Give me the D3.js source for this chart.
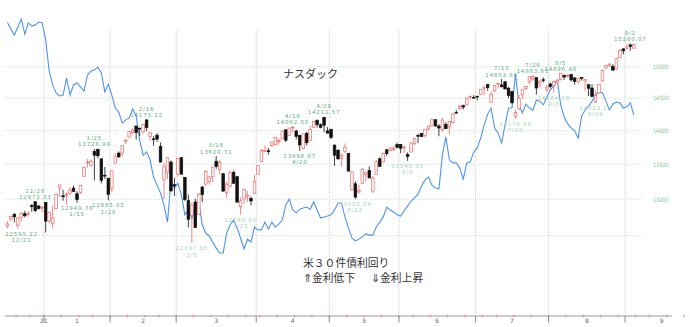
<!DOCTYPE html>
<html>
<head>
<meta charset="utf-8">
<script src="https://d3js.org/d3.v7.min.js"></script>
<style>
body { margin: 0; background: #fff; }
</style>
</head>
<body>
<script>
var w = 690, h = 327;

// trading days of the chart (holidays removed)
var firstDay = '2020-12-16', lastDay = '2021-09-03', axisEnd = '2021-09-30';
var holidays = ['2020-12-25', '2021-01-01', '2021-01-18', '2021-02-15', '2021-04-02',
                '2021-05-31', '2021-07-05', '2021-09-06'];

// NASDAQ daily prices, Dec 16 2020 .. Sep 3 2021
var open = [
  12632,12728,12790,12640,12750,12800,12791,12915,12965,12906,12877,
  12958,12698,12667,12867,13160,13050,13065,13087,13157,13077,13097,13327,13530,13490,13689,13721,13580,13342,13300,
  13147,13516,13664,13665,13840,13902,13967,14070,14036,13982,14162,13911,13875,13930,13762,13286,13386,13533,13206,
  13353,13597,13312,12981,12779,12962,12791,13173,13216,13255,13326,13545,13425,13364,13094,13187,13381,13321,12896,13003,13041,13013,13085,
  13357,13540,13687,13700,13776,13790,13846,13876,14012,13929,14052,13994,13925,13732,13960,13853,14052,14158,14089,14200,13997,
  14017,13783,13710,13591,13694,13661,13140,13219,13104,13226,13353,13412,13117,13351,13580,13535,13713,13700,13721,13792,
  13791,13744,13645,13681,13806,13928,13957,13929,14026,14082,14165,14069,14014,14094,14057,14122,14279,14335,14383,14394,14523,14512,
  14530,14555,14663,14713,14436,14614,14723,14708,14757,14656,14603,14214,14343,14551,14651,14758,14806,14823,14723,14791,14638,
  14723,14701,14743,14797,14859,14847,14872,14820,14760,14826,14771,14712,14658,14441,14583,14771,14982,15024,15006,14970,15153,15290,
  15301,15357,15303
];
var high = [
  12695,12764,12809,12760,12818,12840,12833,12930,12973.33,12924,12902,
  12958,12828,12909,13090,13208,13135,13097,13170,13196,13112,13205,13469,13577,13569,13728.98,13721,13583,13461,13301,
  13408,13658,13689,13777,13878,13987,14041,14071,14045,14097,14175.12,13985,13917,13964,13824,13521,13606,13557,13305,
  13590,13604,13312,13069,12957,13009,13084,13189,13416,13327,13461,13620.71,13566,13375,13250,13410,13412,13333,13026,13148,13121,13040,13349,
  13484,13728,13775,13740,13831,13901,13890,13998,14018,14041,14062.50,14015,13937,13951,13979,14077,14141,14165,14112,14211.57,14055,
  14030,13791,13711,13655,13806,13664,13400,13255,13204,13446,13386,13472,13332,13561,13602,13675,13721,13758,13778,13820,
  13792,13767,13675,13831,13883,13956,13962,14026,14070,14175,14174,14099,14189,14130,14142,14269,14317,14395,14396,14505,14542,14548,
  14533,14640,14699,14716,14602,14701,14735,14803.68,14772,14677,14604,14325,14550,14634,14694,14837,14863.65,14826,14791,14828,14705,
  14746,14762,14794,14896.46,14874,14879,14884,14827,14818,14830,14794,14712,14720,14620,14724,14957,15025,15056,15042,15140,15288,15303,
  15374,15380.07,15375
];
var low = [
  12603,12690,12680,12595.22,12690,12750,12760,12827,12821,12857,12821,
  12543,12665,12597,12863,13036,12980,12919,13056,13112,12949.78,13075,13320,13452,13460,13267,13587,13225,13290,12985.05,
  13099,13516,13592,13612,13799,13898,13950,13867,13919,13955,13992,13849,13774,13830,13530,13003,13286,13107,13048,
  13324,13351,12978,12611,12397.05,12606,12780,12961,13193,13208,13246,13434,13348,13105,13024,13166,13219,12955,12786.81,12935,12965,12915,13075,
  13355,13537,13685,13642,13753,13778,13787,13875,13828,13919,13976,13866,13698.67,13717,13778,13840,14052,14048,14035,13973,13960,
  13872,13478,13563,13473,13664,13396,13120,13002.54,13076,13221,13255,13299,13083,13349,13462,13530,13625,13691,13693,13746,
  13664,13668,13548.93,13677,13780,13813,13907,13896,13998,14056,14056,13916,13978,14022,13943,14104,14262,14320,14323,14381,14487,14491,
  14463,14547,14541,14617,14420,14595,14653,14675,14640,14500,14415,14178.66,14307,14488,14620,14716,14772,14556,14650,14746,14595,
  14653,14584.19,14742,14777,14787,14824,14759,14712,14718,14778,14615,14533,14521,14423.15,14570,14766,14960,14995,14939,14950,15141,15202,
  15297,15259,15301
];
var close = [
  12658,12764,12756,12742,12807,12771,12805,12900,12843,12870,12888,
  12698,12819,12741,13067,13202,13036,13072,13128,13112,12998,13197,13457,13530,13543,13635,13626,13270,13337,13070,
  13403,13612,13610,13777,13856,13987,14007,13973,14025,14095,14047,13965,13865,13874,13533,13465,13597,13119,13192,
  13588,13358,12998,12723,12920,12609,13073,13068,13398,13320,13460,13471,13525,13116,13215,13378,13227,12961,12977,13139,13059,12977,13247,
  13480,13705,13698,13688,13829,13900,13850,13996,13857,14039,14053,13914,13786,13950,13818,14016,14138,14090,14051,14082,13962,
  13895,13634,13582,13633,13752,13402,13389,13032,13124,13430,13379,13303,13299,13535,13471,13661,13657,13738,13736,13748,
  13736,13756,13614,13814,13881,13925,13911,14020,14069,14174,14072,14040,14161,14030,14141,14253,14272,14369,14360,14500,14528,14504,
  14522,14639,14664,14665,14559,14701,14733,14677,14644,14543,14427,14275,14498,14632,14685,14837,14840,14660,14763,14778,14673,
  14681,14761,14780,14895,14835,14860,14788,14765,14816,14822,14794,14656,14525,14542,14714,14943,15019,15042,14945,15129,15265,15259,
  15310,15331,15363
];

// US 30y treasury yield (%), one value per trading day, drawn on an inverted axis
var yieldValues = [
  1.652,1.674,1.695,1.667,1.640,1.692,1.653,1.664,1.660,1.650,1.653,
  1.712,1.820,1.868,1.896,1.906,1.903,1.844,1.903,1.868,1.861,1.875,1.889,1.834,1.820,1.816,1.806,1.827,1.892,1.865,
  1.903,1.948,1.962,2.000,1.989,1.982,1.951,1.976,2.059,2.111,2.100,2.128,2.187,2.215,2.242,2.284,2.343,2.204,2.225,
  2.208,2.249,2.318,2.301,2.329,2.284,2.270,2.353,2.381,2.391,2.412,2.433,2.450,2.450,2.381,2.353,2.336,2.363,2.398,2.436,2.402,2.412,2.360,
  2.370,2.370,2.343,2.367,2.343,2.360,2.350,2.336,2.284,2.263,2.301,2.311,2.298,2.294,2.291,2.298,2.273,2.301,2.329,2.325,2.322,
  2.318,2.301,2.277,2.277,2.325,2.363,2.398,2.408,2.402,2.394,2.384,2.388,2.388,2.360,2.343,2.325,2.291,2.301,2.308,2.318,
  2.322,2.304,2.287,2.270,2.259,2.246,2.218,2.197,2.187,2.215,2.225,2.228,2.111,2.048,2.128,2.138,2.138,2.156,2.194,2.138,2.135,2.100,
  2.086,2.052,2.007,1.969,1.948,2.017,2.034,2.069,2.007,1.948,1.948,1.830,1.937,1.965,1.934,1.948,1.955,1.920,1.924,1.937,1.910,
  1.885,1.872,1.851,1.937,1.979,2.003,2.017,2.027,2.052,1.976,1.955,1.941,1.924,1.903,1.892,1.896,1.924,1.955,1.934,1.927,1.930,1.948,
  1.944,1.930,1.972
];

// highs / lows marked on the chart
var markDay = ['2020-12-21','2020-12-29','2021-01-15','2021-01-25','2021-01-29','2021-02-16','2021-03-05',
               '2021-03-16','2021-03-25','2021-04-16','2021-04-20','2021-04-29','2021-05-12','2021-06-03',
               '2021-07-13','2021-07-19','2021-07-26','2021-08-03','2021-08-05','2021-08-19','2021-09-02'];
var markText = ['12/21','12/28','1/15','1/25','1/29','2/16','3/5','3/16','3/25','4/16','4/20','4/29','5/12','6/3',
                '7/13','7/19','7/26','8/3','8/5','8/19','9/2'];
var markKind = ['low','high','low','high','low','high','low','high','low','high','low','high','low','low',
                'high','low','high','low','high','low','high'];

var priceTicks = [13000, 13500, 14000, 14500, 15000];
var priceGrid = [12500, 13000, 13500, 14000, 14500, 15000];

var fmtDay = d3.timeFormat('%Y-%m-%d');
var parseDay = d3.timeParse('%Y-%m-%d');

function tradingDays(from, to) {
    var out = [];
    d3.timeDay.range(parseDay(from), d3.timeDay.offset(parseDay(to), 1)).forEach(function(d) {
        var wd = d.getDay();
        if (wd == 0 || wd == 6) return;
        if (holidays.indexOf(fmtDay(d)) >= 0) return;
        out.push(d);
    });
    return out;
}

var axisDays = tradingDays(firstDay, axisEnd);
var days = tradingDays(firstDay, lastDay);

var x = d3.scaleLinear().domain([0, 180]).range([7.4, 633.8]);
var y = d3.scaleLog().domain([13000, 15000]).range([199.3, 66.7]);
var yy = d3.scaleLinear().domain([1.65, 2.45]).range([22, 253]);

var svg = d3.select('body').append('svg')
    .attr('width', w).attr('height', h)
    .style('font-family', '"DejaVu Sans", sans-serif');

// horizontal grid
svg.append('g').selectAll('line').data(priceGrid).join('line')
    .attr('x1', 5).attr('x2', 645)
    .attr('y1', function(d) { return y(d); }).attr('y2', function(d) { return y(d); })
    .attr('stroke', '#cfe6dc').attr('stroke-width', 1).attr('stroke-dasharray', '1,1');

svg.append('g').selectAll('text').data(priceTicks).join('text')
    .attr('x', 653).attr('y', function(d) { return y(d) + 2.2; })
    .attr('font-size', 6).attr('fill', '#7cbf93')
    .attr('textLength', 15.5).attr('lengthAdjust', 'spacingAndGlyphs')
    .text(function(d) { return d; });

// month boundaries / week boundaries
var monthStarts = [], weekStarts = [];
axisDays.forEach(function(d, i) {
    if (i == 0) return;
    var p = axisDays[i - 1];
    if (d.getMonth() != p.getMonth()) monthStarts.push(i);
    if (d.getDay() <= p.getDay() || (d - p) > 4 * 864e5) weekStarts.push(i);
});

svg.append('g').selectAll('line').data(monthStarts.filter(function(i) { return i < 181; })).join('line')
    .attr('x1', function(i) { return x(i - 0.5); }).attr('x2', function(i) { return x(i - 0.5); })
    .attr('y1', 30).attr('y2', 316)
    .attr('stroke', '#d0d0d0').attr('stroke-dasharray', '1,1');

// yield line
var line = d3.line()
    .x(function(d, i) { return x(i); })
    .y(function(d) { return yy(d); });
svg.append('path')
    .attr('d', line(yieldValues))
    .attr('fill', 'none').attr('stroke', '#4f93ee').attr('stroke-width', 1.1);

// candles
var candles = days.map(function(d, i) {
    return { i: i, o: open[i], h: high[i], l: low[i], c: close[i] };
});
var bw = 2.6;
var cg = svg.append('g');
candles.forEach(function(d) {
    var up = d.c >= d.o;
    var col = up ? '#f26666' : '#111';
    cg.append('line')
        .attr('x1', x(d.i)).attr('x2', x(d.i))
        .attr('y1', y(d.h)).attr('y2', y(d.l))
        .attr('stroke', col).attr('stroke-width', 0.8);
    var top = y(Math.max(d.o, d.c)), bot = y(Math.min(d.o, d.c));
    cg.append('rect')
        .attr('x', x(d.i) - bw / 2).attr('y', top)
        .attr('width', bw).attr('height', Math.max(bot - top, 0.8))
        .attr('fill', up ? '#fff' : col)
        .attr('stroke', col).attr('stroke-width', 0.7);
});

// high / low marks
var paleMarks = ['3/5', '3/25', '5/12', '6/3', '7/19', '8/3', '8/19'];
var dayKeys = days.map(fmtDay);
var mg = svg.append('g').attr('font-size', 5.6).attr('letter-spacing', 0.75)
    .attr('text-anchor', 'middle');
markDay.forEach(function(md, k) {
    var i = dayKeys.indexOf(md);
    var isHigh = markKind[k] == 'high';
    var v = isHigh ? high[i] : low[i];
    var cx = Math.max(x(i), 21.5);
    var col = paleMarks.indexOf(markText[k]) >= 0 ? '#a6d6b6' : '#5fae7f';
    var t1, t2;
    if (isHigh) {
        t1 = { s: markText[k], y: y(v) - 10.6 + 2 };
        t2 = { s: v.toFixed(2), y: y(v) - 4.3 + 2 };
    } else {
        t1 = { s: v.toFixed(2), y: y(v) + 5 + 2 };
        t2 = { s: markText[k], y: y(v) + 11.3 + 2 };
    }
    [t1, t2].forEach(function(t) {
        mg.append('text').attr('x', cx).attr('y', t.y).attr('fill', col).text(t.s);
    });
});

// bottom axis
svg.append('line').attr('x1', 5).attr('x2', 672).attr('y1', 316).attr('y2', 316)
    .attr('stroke', '#999').attr('stroke-width', 1);
svg.append('g').selectAll('line').data(weekStarts).join('line')
    .attr('x1', function(i) { return x(i - 0.5); }).attr('x2', function(i) { return x(i - 0.5); })
    .attr('y1', 315).attr('y2', 317.5)
    .attr('stroke', '#f08080').attr('stroke-width', 1);
svg.append('g').selectAll('line').data(monthStarts).join('line')
    .attr('x1', function(i) { return x(i - 0.5); }).attr('x2', function(i) { return x(i - 0.5); })
    .attr('y1', 316).attr('y2', 322.5)
    .attr('stroke', '#888').attr('stroke-width', 1);

var months = d3.groups(axisDays.map(function(d, i) { return { d: d, i: i }; }),
                       function(e) { return e.d.getMonth(); })
    .filter(function(g) { return g[1][0].d.getDate() < 5; });
svg.append('g').selectAll('text').data(months).join('text')
    .attr('x', function(g) { return x((g[1][0].i + g[1][g[1].length - 1].i) / 2); })
    .attr('y', 322.5).attr('font-size', 6).attr('fill', '#666').attr('text-anchor', 'middle')
    .text(function(g) { return g[0] + 1; });
svg.append('text').attr('x', x(monthStarts[0] - 0.5)).attr('y', 322.5)
    .attr('font-size', 6).attr('fill', '#666').attr('text-anchor', 'middle').text('21');

// titles
var jp = '"Noto Sans CJK JP", sans-serif';
svg.append('text').attr('x', 283).attr('y', 78).attr('font-family', jp)
    .attr('font-size', 11).attr('fill', '#333').text('ナスダック');
svg.append('text').attr('x', 303).attr('y', 266.5).attr('font-family', jp)
    .attr('font-size', 10.8).attr('fill', '#333').text('米３０件債利回り');
svg.append('text').attr('x', 303).attr('y', 282).attr('font-family', jp)
    .attr('font-size', 10.8).attr('fill', '#333').text('⇑金利低下');
svg.append('text').attr('x', 371).attr('y', 282).attr('font-family', jp)
    .attr('font-size', 10.8).attr('fill', '#333').text('⇓金利上昇');
</script>
</body>
</html>
